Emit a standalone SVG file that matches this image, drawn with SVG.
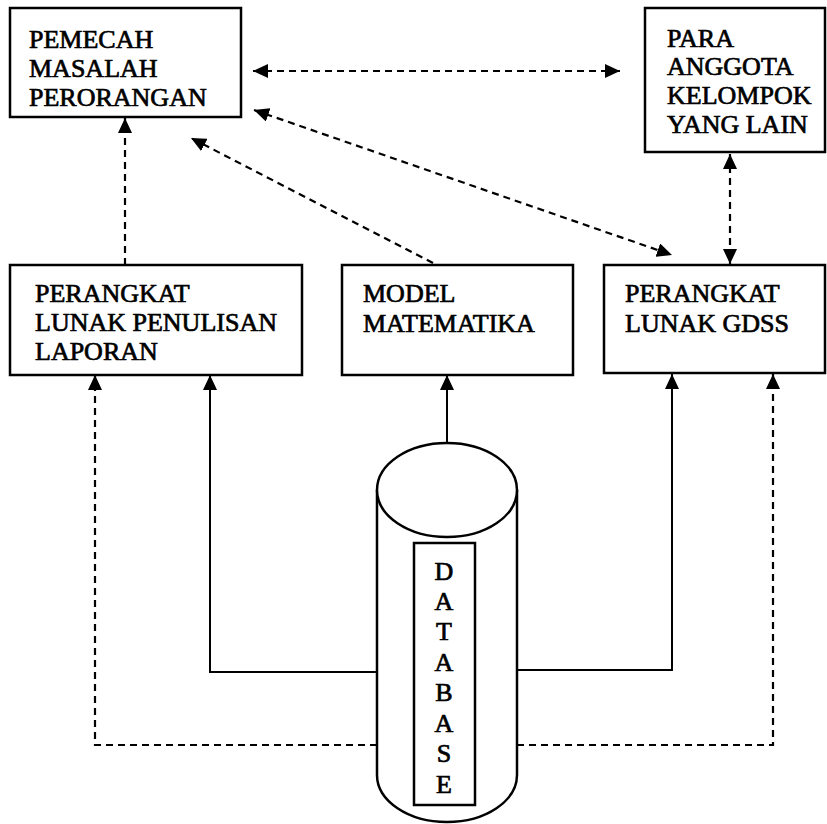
<svg xmlns="http://www.w3.org/2000/svg" width="827" height="824" viewBox="0 0 827 824">
<style>
.box{fill:#fff;stroke:#000;stroke-width:2.5}
text{font-family:'Liberation Serif','Times New Roman',Times,serif;font-size:26px;fill:#000;stroke:#000;stroke-width:0.7}
.sol{fill:none;stroke:#000;stroke-width:2}
.dash{fill:none;stroke:#000;stroke-width:2.2;stroke-dasharray:7 5}
.db{text-anchor:middle}
</style>
<defs>
<marker id="ah" markerUnits="userSpaceOnUse" markerWidth="16" markerHeight="14" refX="15" refY="7" orient="auto-start-reverse">
<path d="M0,0 L15,7 L0,14 z" fill="#000"/>
</marker>
</defs>
<rect width="827" height="824" fill="#fff"/>
<g id="connectors">
<path class="dash" d="M253,71 L620,71" marker-start="url(#ah)" marker-end="url(#ah)"/>
<path class="dash" d="M254,110 L672,255" marker-start="url(#ah)" marker-end="url(#ah)"/>
<path class="dash" d="M433,263 L191,138" marker-end="url(#ah)"/>
<path class="dash" d="M125,265 L125,118" marker-end="url(#ah)"/>
<path class="dash" d="M730,154 L730,264" marker-start="url(#ah)" marker-end="url(#ah)"/>
<path class="sol" d="M447,443 L447,375" marker-end="url(#ah)"/>
<path class="sol" d="M377,672 L210,672 L210,375" marker-end="url(#ah)"/>
<path class="sol" d="M517,670 L672,670 L672,374" marker-end="url(#ah)"/>
<path class="dash" d="M377,745 L95,745 L95,375" marker-end="url(#ah)"/>
<path class="dash" d="M517,745 L773,745 L773,374" marker-end="url(#ah)"/>
</g>
<g id="pemecah">
<rect class="box" x="10" y="8" width="231" height="109"/>
<text x="29" y="48">PEMECAH</text>
<text x="29" y="77">MASALAH</text>
<text x="29" y="106">PERORANGAN</text>
</g>
<g id="anggota">
<rect class="box" x="645" y="8" width="180" height="144"/>
<text x="667" y="47">PARA</text>
<text x="667" y="75">ANGGOTA</text>
<text x="667" y="104">KELOMPOK</text>
<text x="667" y="133">YANG LAIN</text>
</g>
<g id="laporan">
<rect class="box" x="10" y="265" width="292" height="110"/>
<text x="35" y="302">PERANGKAT</text>
<text x="35" y="331">LUNAK PENULISAN</text>
<text x="35" y="360">LAPORAN</text>
</g>
<g id="model">
<rect class="box" x="342" y="265" width="231" height="110"/>
<text x="363" y="302">MODEL</text>
<text x="363" y="332">MATEMATIKA</text>
</g>
<g id="gdss">
<rect class="box" x="604" y="265" width="221" height="108"/>
<text x="625" y="302">PERANGKAT</text>
<text x="625" y="332">LUNAK GDSS</text>
</g>
<g id="database">
<path d="M377,490 L377,775 A70,47 0 0 0 517,775 L517,490" fill="#fff" stroke="#000" stroke-width="2.5"/>
<ellipse cx="447" cy="490" rx="70" ry="47" fill="#fff" stroke="#000" stroke-width="2.5"/>
<rect x="414" y="543" width="61" height="262" fill="#fff" stroke="#000" stroke-width="2.5"/>
<text class="db" x="444" y="580">D</text>
<text class="db" x="444" y="610">A</text>
<text class="db" x="444" y="640">T</text>
<text class="db" x="444" y="671">A</text>
<text class="db" x="444" y="701">B</text>
<text class="db" x="444" y="732">A</text>
<text class="db" x="444" y="762">S</text>
<text class="db" x="444" y="793">E</text>
</g>
</svg>
